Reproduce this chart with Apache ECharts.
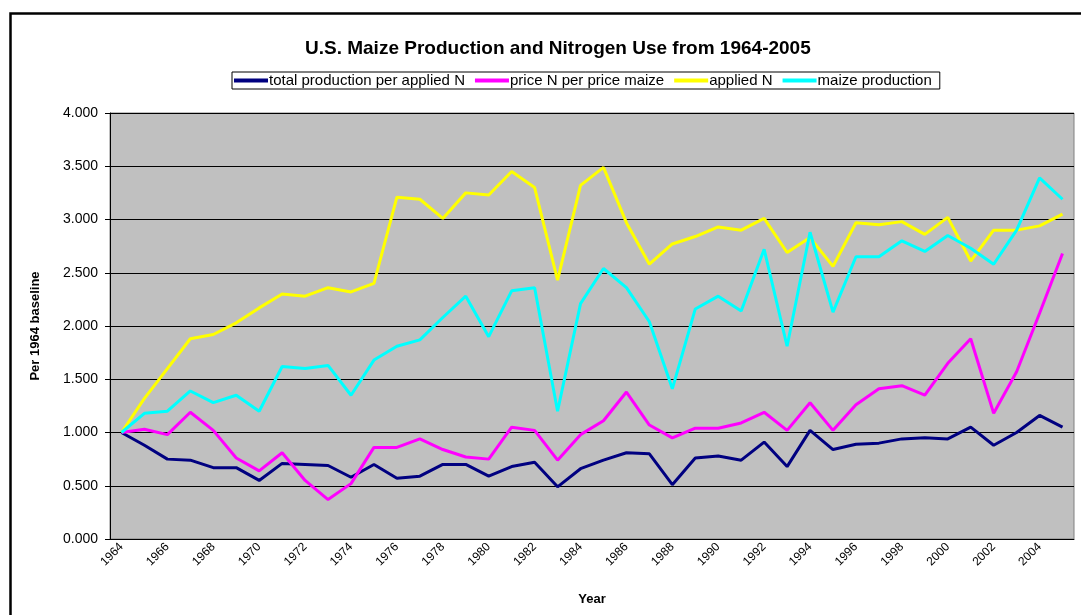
<!DOCTYPE html>
<html>
<head>
<meta charset="utf-8">
<script src="https://cdn.jsdelivr.net/npm/echarts@6/dist/echarts.min.js"></script>
<style>
  html, body { margin: 0; padding: 0; background: #fff; }
  #main { width: 1081px; height: 615px; }
</style>
</head>
<body>
<div id="main"></div>
<script>
// years 1964..2005
var years = [];
for (var y = 1964; y <= 2005; y++) years.push(String(y));

var prodPerN = [1.00, 0.88, 0.75, 0.74, 0.67, 0.67, 0.55, 0.71, 0.70, 0.69, 0.58, 0.70, 0.57, 0.59,
                0.70, 0.70, 0.59, 0.68, 0.72, 0.49, 0.66, 0.74, 0.81, 0.80, 0.51, 0.76, 0.78, 0.74,
                0.91, 0.68, 1.02, 0.84, 0.89, 0.90, 0.94, 0.95, 0.94, 1.05, 0.88, 1.00, 1.16, 1.05];
var priceRatio = [1.00, 1.03, 0.98, 1.19, 1.02, 0.76, 0.64, 0.81, 0.55, 0.37, 0.52, 0.86, 0.86, 0.94,
                  0.84, 0.77, 0.75, 1.05, 1.02, 0.74, 0.98, 1.11, 1.38, 1.07, 0.95, 1.04, 1.04, 1.09,
                  1.19, 1.02, 1.28, 1.02, 1.26, 1.41, 1.44, 1.35, 1.65, 1.88, 1.18, 1.57, 2.12, 2.68];
var appliedN = [1.00, 1.32, 1.60, 1.88, 1.92, 2.03, 2.17, 2.30, 2.28, 2.36, 2.32, 2.40, 3.21, 3.19,
                3.01, 3.25, 3.23, 3.45, 3.30, 2.43, 3.32, 3.49, 2.97, 2.58, 2.77, 2.84, 2.93, 2.90,
                3.01, 2.69, 2.83, 2.56, 2.97, 2.95, 2.98, 2.86, 3.02, 2.61, 2.90, 2.90, 2.94, 3.05];
var maizeProd = [1.00, 1.18, 1.20, 1.39, 1.28, 1.35, 1.20, 1.62, 1.60, 1.63, 1.35, 1.68, 1.81, 1.87,
                 2.08, 2.28, 1.90, 2.33, 2.36, 1.20, 2.21, 2.54, 2.36, 2.04, 1.41, 2.16, 2.28, 2.14,
                 2.72, 1.81, 2.88, 2.13, 2.65, 2.65, 2.80, 2.70, 2.85, 2.73, 2.58, 2.90, 3.39, 3.19];

var seriesNames = ['total production per applied N', 'price N per price maize', 'applied N', 'maize production'];
var seriesColors = ['#000080', '#FF00FF', '#FFFF00', '#00FFFF'];
var seriesData = [prodPerN, priceRatio, appliedN, maizeProd];

var font = 'Arial, "Liberation Sans", sans-serif';

var chart = echarts.init(document.getElementById('main'));
chart.setOption({
  animation: false,
  backgroundColor: '#fff',
  textStyle: { fontFamily: font, color: '#000' },
  title: {
    text: 'U.S. Maize Production and Nitrogen Use from 1964-2005',
    left: 300, top: 34,
    textStyle: { fontFamily: font, fontSize: 19, fontWeight: 'bold', color: '#000' }
  },
  legend: {
    left: 232, top: 72,
    padding: [1, 8, 1, 2],
    itemGap: 10,
    itemWidth: 34, itemHeight: 4,
    icon: 'rect',
    borderColor: '#000', borderWidth: 1,
    textStyle: { fontFamily: font, fontSize: 15, color: '#000', padding: [0, 0, 0, -4] },
    data: seriesNames
  },
  graphic: [{
    type: 'rect', left: 8, top: 11, silent: true,
    shape: { width: 1085, height: 615 },
    style: { fill: 'none', stroke: '#000', lineWidth: 2.5 }
  }],
  grid: {
    left: 110, top: 113, right: 7, bottom: 76,
    show: true, backgroundColor: '#C0C0C0', borderColor: '#808080', borderWidth: 1
  },
  xAxis: {
    type: 'category',
    data: years,
    boundaryGap: true,
    name: 'Year', nameLocation: 'middle', nameGap: 54,
    nameTextStyle: { fontFamily: font, fontSize: 13, fontWeight: 'bold', color: '#000' },
    axisLine: { lineStyle: { color: '#000', width: 1 } },
    axisTick: { interval: 0, length: 5, lineStyle: { color: '#000' } },
    axisLabel: { interval: 1, rotate: 45, fontSize: 12, color: '#000', fontFamily: font, margin: 6 },
    splitLine: { show: false }
  },
  yAxis: {
    type: 'value',
    min: 0, max: 4, interval: 0.5,
    name: 'Per 1964 baseline', nameLocation: 'middle', nameGap: 68,
    nameTextStyle: { fontFamily: font, fontSize: 13, fontWeight: 'bold', color: '#000' },
    axisLine: { show: true, lineStyle: { color: '#000', width: 1 } },
    axisTick: { show: true, length: 5, lineStyle: { color: '#000' } },
    axisLabel: {
      fontSize: 14, color: '#000', fontFamily: font, margin: 12,
      formatter: function (v) { return v.toFixed(3); }
    },
    splitLine: { lineStyle: { color: '#000', width: 1 } }
  },
  series: seriesNames.map(function (n, i) {
    return {
      name: n, type: 'line', data: seriesData[i],
      symbol: 'none', color: seriesColors[i],
      lineStyle: { width: 3, color: seriesColors[i] }
    };
  })
});
</script>
</body>
</html>
